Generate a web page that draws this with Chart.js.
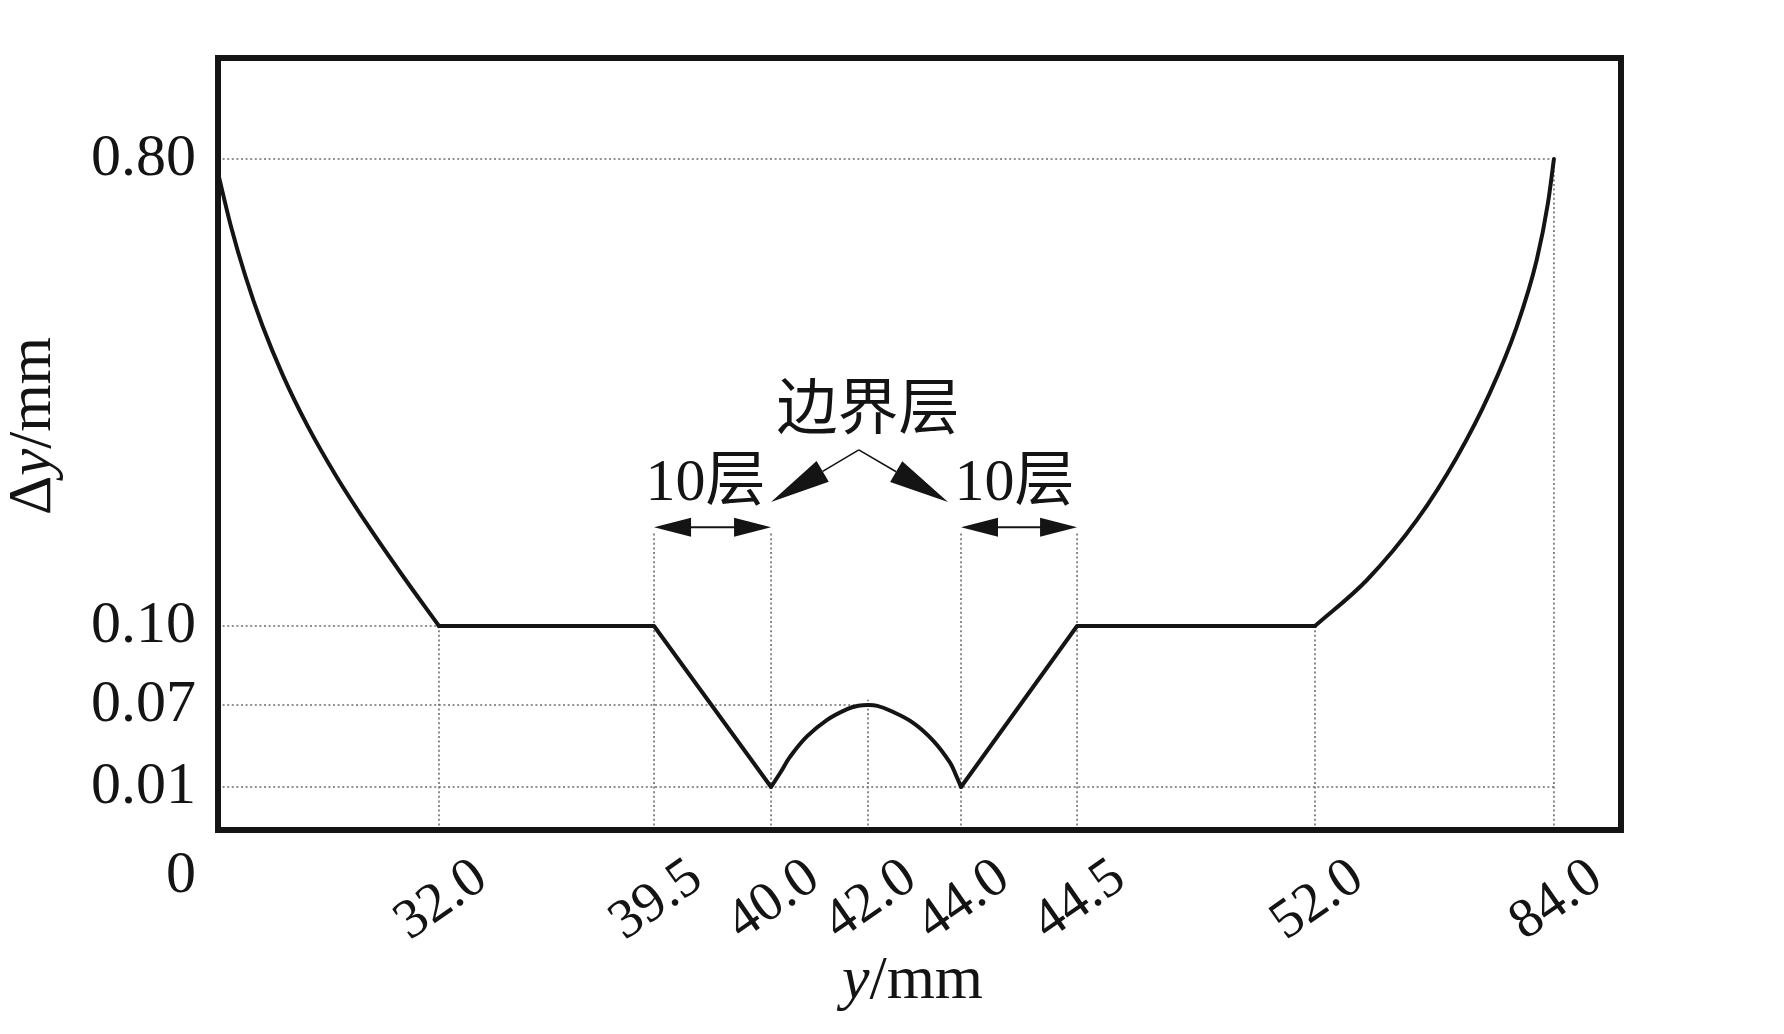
<!DOCTYPE html>
<html>
<head>
<meta charset="utf-8">
<script src="https://cdn.jsdelivr.net/npm/chart.js@4.4.1/dist/chart.umd.min.js"></script>
<style>
  html, body { margin: 0; padding: 0; background: #fff; }
  #wrap { position: relative; width: 1784px; height: 1034px; }
</style>
</head>
<body>
<div id="wrap"><canvas id="chart"></canvas></div>
<script>
// ---- values: y (mm) across the channel, Δy (mm) cell height ----
const xTicks = [32.0, 39.5, 40.0, 42.0, 44.0, 44.5, 52.0, 84.0];
const xTickLabels = ['32.0', '39.5', '40.0', '42.0', '44.0', '44.5', '52.0', '84.0'];
const yTicks = [0, 0.01, 0.07, 0.10, 0.80];
const yTickLabels = ['0', '0.01', '0.07', '0.10', '0.80'];

// left wall -> plateau
const leftWallX = [0, 1.85, 3.95, 6.44, 9.43, 12.97, 17.10, 21.76, 26.77, 32.0];
const leftWallY = [0.779, 0.700, 0.625, 0.550, 0.475, 0.400, 0.325, 0.250, 0.175, 0.10];
// plateau + left boundary layer (10 layers)
const leftLayerX = [32.0, 39.5, 40.0];
const leftLayerY = [0.10, 0.10, 0.01];
// core region between the two boundary layers
const coreX = [40.0, 40.2, 40.39, 40.74, 41.15, 41.57, 41.8, 42.0, 42.2, 42.47, 42.97, 43.40, 43.76, 43.9, 44.0];
const coreY = [0.01, 0.021, 0.032, 0.047, 0.059, 0.067, 0.0694, 0.07, 0.0694, 0.066, 0.057, 0.044, 0.028, 0.018, 0.01];
// right boundary layer + plateau
const rightLayerX = [44.0, 44.5, 52.0];
const rightLayerY = [0.01, 0.10, 0.10];
// plateau -> right wall
const rightWallX = [52.0, 58.96, 65.65, 71.0, 75.4, 79.0, 81.7, 83.2, 84.0];
const rightWallY = [0.10, 0.169, 0.259, 0.353, 0.449, 0.548, 0.649, 0.734, 0.80];

// dotted guide lines
const hGuideY = [0.80, 0.10, 0.07, 0.01];
const hGuideEndX = [84.0, 32.0, 42.0, 84.0];
const vGuideX = [32.0, 39.5, 40.0, 42.0, 44.0, 44.5, 52.0, 84.0];
const vGuideTopY = [0.10, 0.24, 0.24, 0.072, 0.24, 0.24, 0.10, 0.80];

// ---- the axes are drawn stretched (schematic): where each value sits along its axis ----
const xStopValues = [0, 32, 39.5, 40, 42, 44, 44.5, 52, 84, 93];
const xStopFrac   = [0, 0.1575, 0.3108, 0.3942, 0.4633, 0.5296, 0.6123, 0.7819, 0.9522, 1];
const yStopValues = [0, 0.01, 0.07, 0.10, 0.80, 0.95];
const yStopFrac   = [0, 0.0557, 0.1619, 0.2642, 0.8692, 1];

const SERIF = '"Liberation Serif", "Noto Sans CJK SC", serif';
const INK = '#141414';

function interp(v, from, to) {
  let i = 1;
  while (i < from.length - 1 && v > from[i]) i++;
  return to[i - 1] + (v - from[i - 1]) / (from[i] - from[i - 1]) * (to[i] - to[i - 1]);
}

class StretchScale extends Chart.LinearScale {
  static id = 'stretch';
  stops() {
    return this.axis === 'x' ? [xStopValues, xStopFrac] : [yStopValues, yStopFrac];
  }
  buildTicks() {
    return (this.axis === 'x' ? xTicks : yTicks).map(v => ({ value: v }));
  }
  getPixelForValue(v) {
    const [vals, fr] = this.stops();
    const f = interp(v, vals, fr);
    return this.isHorizontal() ? this.left + f * this.width : this.bottom - f * this.height;
  }
  getValueForPixel(p) {
    const [vals, fr] = this.stops();
    const f = this.isHorizontal() ? (p - this.left) / this.width : (this.bottom - p) / this.height;
    return interp(f, fr, vals);
  }
}
Chart.register(StretchScale);

const pts = (xs, ys) => xs.map((x, i) => ({ x, y: ys[i] }));

const profile = {
  borderColor: INK, borderWidth: 4, pointRadius: 0, fill: false,
  borderCapStyle: 'round', borderJoinStyle: 'round', order: 0
};
const curved = { ...profile, cubicInterpolationMode: 'monotone' };
const guide = {
  borderColor: '#6e6e6e', borderWidth: 1.6, borderDash: [2, 2.6],
  pointRadius: 0, fill: false, tension: 0, order: 2
};

const datasets = [
  ...hGuideY.map((y, i) => ({ ...guide, data: [{ x: 0, y }, { x: hGuideEndX[i], y }] })),
  ...vGuideX.map((x, i) => ({ ...guide, data: [{ x, y: 0 }, { x, y: vGuideTopY[i] }] })),
  { ...curved, data: pts(leftWallX, leftWallY) },
  { ...profile, data: pts(leftLayerX, leftLayerY) },
  { ...profile, tension: 0.4, data: pts(coreX, coreY) },
  { ...profile, data: pts(rightLayerX, rightLayerY) },
  { ...curved, data: pts(rightWallX, rightWallY) }
];

function arrowHead(ctx, tx, ty, fx, fy, len, half) {
  const a = Math.atan2(ty - fy, tx - fx);
  const bx = tx - Math.cos(a) * len, by = ty - Math.sin(a) * len;
  ctx.beginPath();
  ctx.moveTo(tx, ty);
  ctx.lineTo(bx + Math.sin(a) * half, by - Math.cos(a) * half);
  ctx.lineTo(bx - Math.sin(a) * half, by + Math.cos(a) * half);
  ctx.closePath();
  ctx.fill();
  return [bx, by];
}

function drawRich(ctx, parts, size) {
  const fonts = parts.map(p => `${p.italic ? 'italic ' : ''}${size}px ${SERIF}`);
  const widths = parts.map((p, i) => { ctx.font = fonts[i]; return ctx.measureText(p.text).width; });
  let x = -widths.reduce((a, b) => a + b, 0) / 2;
  ctx.textAlign = 'left';
  ctx.textBaseline = 'alphabetic';
  parts.forEach((p, i) => { ctx.font = fonts[i]; ctx.fillText(p.text, x, 0); x += widths[i]; });
}

const figureDecor = {
  id: 'figureDecor',
  afterDraw(chart) {
    const { ctx, chartArea: a, scales: { x, y } } = chart;
    ctx.save();
    ctx.fillStyle = INK;
    ctx.strokeStyle = INK;

    // frame
    ctx.lineWidth = 6;
    ctx.strokeRect(a.left, a.top, a.right - a.left, a.bottom - a.top);

    // rotated x tick labels
    const xs = 56;
    ctx.font = `${xs}px ${SERIF}`;
    ctx.textAlign = 'center';
    ctx.textBaseline = 'alphabetic';
    xTicks.forEach((v, i) => {
      ctx.save();
      ctx.translate(x.getPixelForValue(v), a.bottom + 67);
      ctx.rotate(-35 * Math.PI / 180);
      ctx.fillText(xTickLabels[i], 0, 0.34 * xs);
      ctx.restore();
    });

    // origin label
    ctx.font = `60px ${SERIF}`;
    ctx.textAlign = 'right';
    ctx.textBaseline = 'middle';
    ctx.fillText(yTickLabels[0], a.left - 22, y.getPixelForValue(0) + 46);

    // axis titles
    ctx.save();
    ctx.translate((a.left + a.right) / 2 - 7, 998);
    drawRich(ctx, [{ text: 'y', italic: true }, { text: '/mm' }], 62);
    ctx.restore();
    ctx.save();
    ctx.translate(50, 426);
    ctx.rotate(-Math.PI / 2);
    drawRich(ctx, [{ text: 'Δ' }, { text: 'y', italic: true }, { text: '/mm' }], 61);
    ctx.restore();

    // boundary-layer callout
    ctx.font = `61px ${SERIF}`;
    ctx.textAlign = 'center';
    ctx.textBaseline = 'middle';
    ctx.fillText('边界层', x.getPixelForValue(42.0), y.getPixelForValue(0.42));
    ctx.font = `60px ${SERIF}`;
    ctx.fillText('10层', x.getPixelForValue(39.72), y.getPixelForValue(0.312));
    ctx.fillText('10层', x.getPixelForValue(44.23), y.getPixelForValue(0.312));

    const px = x.getPixelForValue(41.81), py = y.getPixelForValue(0.364);
    const tips = [[x.getPixelForValue(40.0), y.getPixelForValue(0.286)],
                  [x.getPixelForValue(43.72), y.getPixelForValue(0.286)]];
    ctx.lineWidth = 1.6;
    tips.forEach(([tx, ty]) => {
      const [bx, by] = arrowHead(ctx, tx, ty, px, py, 60, 12);
      ctx.beginPath();
      ctx.moveTo(px, py);
      ctx.lineTo(bx, by);
      ctx.stroke();
    });

    // double arrows spanning the 10 layers
    const ay = y.getPixelForValue(0.248);
    ctx.lineWidth = 2;
    [[39.5, 40.0], [44.0, 44.5]].forEach(([v0, v1]) => {
      const x0 = x.getPixelForValue(v0), x1 = x.getPixelForValue(v1);
      ctx.beginPath();
      ctx.moveTo(x0 + 20, ay);
      ctx.lineTo(x1 - 20, ay);
      ctx.stroke();
      arrowHead(ctx, x0, ay, x1, ay, 37, 9.5);
      arrowHead(ctx, x1, ay, x0, ay, 37, 9.5);
    });
    ctx.restore();
  }
};

new Chart(document.getElementById('chart'), {
  type: 'line',
  data: { datasets },
  options: {
    responsive: true,
    maintainAspectRatio: false,
    animation: false,
    events: [],
    layout: { padding: { left: 0, top: 58, right: 163, bottom: 0 } },
    plugins: { legend: { display: false }, tooltip: { enabled: false } },
    scales: {
      x: {
        type: 'stretch', min: 0, max: 93,
        afterFit: s => { s.height = 204; },
        grid: { display: false, drawTicks: false },
        border: { display: false },
        ticks: { display: false }
      },
      y: {
        type: 'stretch', min: 0, max: 0.95,
        afterFit: s => { s.width = 218; },
        grid: { display: false, drawTicks: false },
        border: { display: false },
        ticks: {
          autoSkip: false, padding: 22, color: INK,
          font: { family: SERIF, size: 60 },
          callback: v => { const i = yTicks.indexOf(v); return i > 0 ? yTickLabels[i] : ''; }
        }
      }
    }
  },
  plugins: [figureDecor]
});
</script>
</body>
</html>
